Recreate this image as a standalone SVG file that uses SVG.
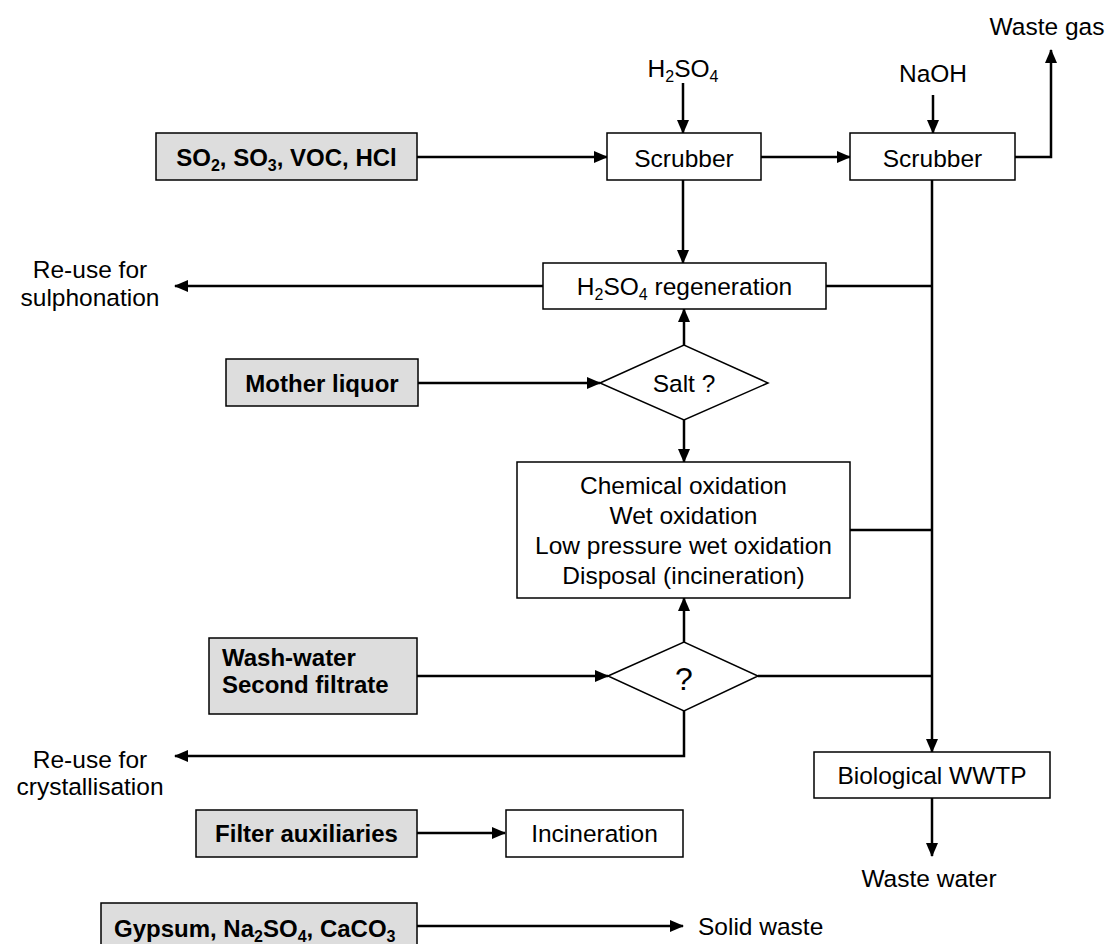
<svg xmlns="http://www.w3.org/2000/svg" width="1108" height="944" viewBox="0 0 1108 944">
<defs>
<marker id="ah" markerUnits="userSpaceOnUse" markerWidth="14" markerHeight="12" refX="13" refY="6" orient="auto">
<path d="M0,0 L14,6 L0,12 z" fill="#000"/>
</marker>
<style>
.box{fill:#fff;stroke:#000;stroke-width:1.5}
.in{fill:#ddd;stroke:#000;stroke-width:1.5}
.t{font-family:"Liberation Sans",Arial,sans-serif;font-size:24.5px;fill:#000}
.b{font-family:"Liberation Sans",Arial,sans-serif;font-size:24px;font-weight:bold;fill:#000}
.c{text-anchor:middle}
.conn{fill:none;stroke:#000;stroke-width:2.5}
.arr{marker-end:url(#ah)}
</style>
</defs>
<rect width="1108" height="944" fill="#fff"/>

<g id="connectors">
<path class="conn arr" d="M417,157 H607"/>
<path class="conn arr" d="M683,83 V133"/>
<path class="conn arr" d="M761,157 H850"/>
<path class="conn arr" d="M933,95 V133"/>
<path class="conn arr" d="M1015,157 H1051 V50"/>
<path class="conn arr" d="M683,180 V263"/>
<path class="conn arr" d="M543,286 H175"/>
<path class="conn" d="M826,286 H932"/>
<path class="conn arr" d="M932,180 V752"/>
<path class="conn arr" d="M418,383 H600"/>
<path class="conn arr" d="M684,345 V309"/>
<path class="conn arr" d="M684,420 V462"/>
<path class="conn" d="M850,530 H932"/>
<path class="conn arr" d="M417,676 H608"/>
<path class="conn arr" d="M684,642 V598"/>
<path class="conn" d="M758,676 H932"/>
<path class="conn arr" d="M684,711 V756 H175"/>
<path class="conn arr" d="M932,798 V856"/>
<path class="conn arr" d="M417,833 H505"/>
<path class="conn arr" d="M417,926 H683"/>
</g>

<g id="in-gases">
<rect class="in" x="156" y="133" width="261" height="47"/>
<text class="b c" x="286.5" y="166">SO<tspan font-size="16" dy="5">2</tspan><tspan dy="-5">, SO</tspan><tspan font-size="16" dy="5">3</tspan><tspan dy="-5">, VOC, HCl</tspan></text>
</g>
<g id="label-h2so4">
<text class="t c" x="683" y="77">H<tspan font-size="16" dy="5">2</tspan><tspan dy="-5">SO</tspan><tspan font-size="16" dy="5">4</tspan></text>
</g>
<g id="label-naoh"><text class="t c" x="933" y="82">NaOH</text></g>
<g id="label-wastegas"><text class="t c" x="1047" y="35">Waste gas</text></g>
<g id="scrubber1">
<rect class="box" x="607" y="133" width="154" height="47"/>
<text class="t c" x="684" y="167">Scrubber</text>
</g>
<g id="scrubber2">
<rect class="box" x="850" y="133" width="165" height="47"/>
<text class="t c" x="932.5" y="167">Scrubber</text>
</g>
<g id="regeneration">
<rect class="box" x="543" y="263" width="283" height="46"/>
<text class="t c" x="684.5" y="295">H<tspan font-size="16" dy="5">2</tspan><tspan dy="-5">SO</tspan><tspan font-size="16" dy="5">4</tspan><tspan dy="-5"> regeneration</tspan></text>
</g>
<g id="label-reuse-sulph">
<text class="t c" x="90" y="278">Re-use for</text>
<text class="t c" x="90" y="306">sulphonation</text>
</g>
<g id="in-mother">
<rect class="in" x="226" y="359" width="192" height="47"/>
<text class="b c" x="322" y="392">Mother liquor</text>
</g>
<g id="salt">
<path class="box" d="M600,383 L684,345 L768,383 L684,420 z"/>
<text class="t c" x="684" y="392">Salt ?</text>
</g>
<g id="oxidation">
<rect class="box" x="517" y="462" width="333" height="136"/>
<text class="t c" x="683.5" y="494">Chemical oxidation</text>
<text class="t c" x="683.5" y="524">Wet oxidation</text>
<text class="t c" x="683.5" y="554">Low pressure wet oxidation</text>
<text class="t c" x="683.5" y="584">Disposal (incineration)</text>
</g>
<g id="in-wash">
<rect class="in" x="209" y="638" width="208" height="76"/>
<text class="b" x="222" y="666">Wash-water</text>
<text class="b" x="222" y="693">Second filtrate</text>
</g>
<g id="question">
<path class="box" d="M608,676 L684,642 L758,676 L684,711 z"/>
<text class="t c" x="684" y="690" style="font-size:32px">?</text>
</g>
<g id="label-reuse-cryst">
<text class="t c" x="90" y="768">Re-use for</text>
<text class="t c" x="90" y="795">crystallisation</text>
</g>
<g id="wwtp">
<rect class="box" x="814" y="752" width="236" height="46"/>
<text class="t c" x="932" y="784">Biological WWTP</text>
</g>
<g id="label-wastewater"><text class="t c" x="929" y="887">Waste water</text></g>
<g id="in-filter">
<rect class="in" x="196" y="810" width="221" height="47"/>
<text class="b c" x="306.5" y="842">Filter auxiliaries</text>
</g>
<g id="incineration">
<rect class="box" x="506" y="810" width="177" height="47"/>
<text class="t c" x="594.5" y="842">Incineration</text>
</g>
<g id="in-gypsum">
<rect class="in" x="101" y="903" width="316" height="50"/>
<text class="b" x="114" y="937">Gypsum, Na<tspan font-size="16" dy="5">2</tspan><tspan dy="-5">SO</tspan><tspan font-size="16" dy="5">4</tspan><tspan dy="-5">, CaCO</tspan><tspan font-size="16" dy="5">3</tspan></text>
</g>
<g id="label-solid"><text class="t" x="698" y="935">Solid waste</text></g>
</svg>
